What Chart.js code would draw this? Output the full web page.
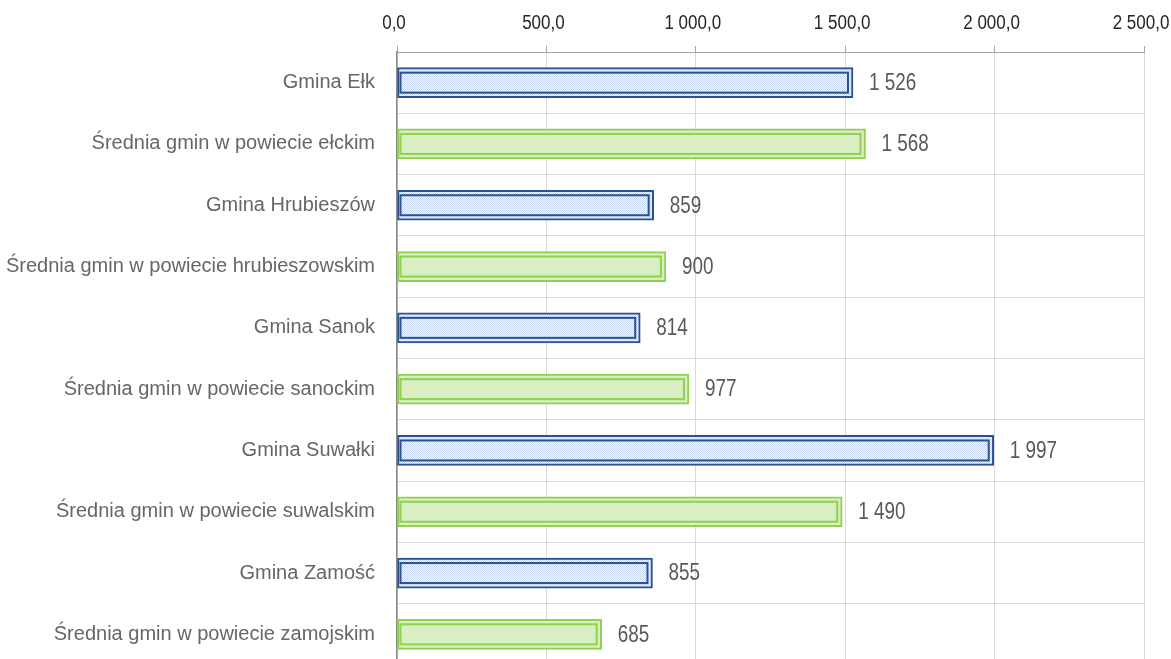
<!DOCTYPE html>
<html>
<head>
<meta charset="utf-8">
<script src="https://cdn.jsdelivr.net/npm/chart.js@4/dist/chart.umd.min.js"></script>
<style>
html,body{margin:0;padding:0;background:#fff;overflow:hidden;}
#wrap{width:1171px;height:665px;}
</style>
</head>
<body>
<div id="wrap"><canvas id="c" width="1171" height="665"></canvas></div>
<script>
// ---- data ----
const categories = [
  "Gmina Ełk",
  "Średnia gmin w powiecie ełckim",
  "Gmina Hrubieszów",
  "Średnia gmin w powiecie hrubieszowskim",
  "Gmina Sanok",
  "Średnia gmin w powiecie sanockim",
  "Gmina Suwałki",
  "Średnia gmin w powiecie suwalskim",
  "Gmina Zamość",
  "Średnia gmin w powiecie zamojskim"
];
const values = [1526, 1568, 859, 900, 814, 977, 1997, 1490, 855, 685];
const kinds = ["gmina","avg","gmina","avg","gmina","avg","gmina","avg","gmina","avg"];
const axisMin = 0;
const axisMax = 2500;
const axisStep = 500;

// ---- helpers ----
function fmt(v, dec) {
  const s = v.toFixed(dec);
  const parts = s.split('.');
  parts[0] = parts[0].replace(/\B(?=(\d{3})+(?!\d))/g, ' ');
  return parts.join(',');
}
function makePattern() {
  const p = document.createElement('canvas');
  p.width = 2; p.height = 2;
  const g = p.getContext('2d');
  g.fillStyle = '#f4f7fc'; g.fillRect(0,0,2,2);
  g.fillStyle = '#c9d8ef'; g.fillRect(0,0,1,1); g.fillRect(1,1,1,1);
  return document.getElementById('c').getContext('2d').createPattern(p, 'repeat');
}
const pattern = makePattern();
const BLUE = '#2a5190';
const GREEN = '#92d050';
const GREEN_FILL = '#d9eec3';

const fills = kinds.map(k => k === 'gmina' ? pattern : GREEN_FILL);
const borders = kinds.map(k => k === 'gmina' ? BLUE : GREEN);

const SANS = '"Liberation Sans", Arial, sans-serif';

function condensedText(ctx, text, x, y, sx, align) {
  ctx.save();
  ctx.translate(x, y);
  ctx.scale(sx, 1);
  ctx.textAlign = align;
  ctx.fillText(text, 0, 0);
  ctx.restore();
}

const customPlugin = {
  id: 'customDraw',
  afterDatasetsDraw(chart) {
    const ctx = chart.ctx;
    const meta = chart.getDatasetMeta(0);
    ctx.save();
    meta.data.forEach((el, i) => {
      const p = el.getProps(['x','y','base','height'], true);
      const top = p.y - p.height / 2;
      ctx.strokeStyle = borders[i];
      ctx.lineWidth = 2;
      ctx.strokeRect(p.base + 3, top + 5, (p.x - p.base) - 8, p.height - 10);
    });
    ctx.restore();
  },
  afterDraw(chart) {
    const ctx = chart.ctx;
    const meta = chart.getDatasetMeta(0);
    ctx.save();
    // data labels
    ctx.font = '23px ' + SANS;
    ctx.fillStyle = '#595959';
    ctx.textBaseline = 'middle';
    meta.data.forEach((el, i) => {
      const p = el.getProps(['x','y'], true);
      condensedText(ctx, fmt(values[i], 0), p.x + 16, p.y + 1, 0.82, 'left');
    });
    // x-axis tick labels
    const xs = chart.scales.x;
    ctx.font = '20px ' + SANS;
    ctx.fillStyle = '#262626';
    xs.ticks.forEach(t => {
      const px = xs.getPixelForValue(t.value);
      condensedText(ctx, fmt(t.value, 1), px - 3, 23, 0.85, 'center');
    });
    ctx.restore();
  }
};

new Chart(document.getElementById('c'), {
  type: 'bar',
  data: {
    labels: categories,
    datasets: [{
      data: values,
      backgroundColor: fills,
      borderColor: borders,
      borderWidth: 2,
      borderSkipped: false,
      barThickness: 30
    }]
  },
  options: {
    indexAxis: 'y',
    responsive: false,
    animation: false,
    layout: { padding: { left: 0, right: 27, top: 0, bottom: 0 } },
    plugins: { legend: { display: false }, tooltip: { enabled: false } },
    scales: {
      x: {
        position: 'top',
        min: axisMin,
        max: axisMax,
        afterFit(s) { s.height = 52; s.paddingLeft = 0; s.paddingRight = 0; },
        ticks: {
          stepSize: axisStep,
          display: false,
          callback: v => fmt(v, 1)
        },
        grid: { color: '#d9d9d9', tickColor: '#a6a6a6', tickLength: 6, lineWidth: 1 },
        border: { display: true, color: '#a6a6a6', width: 1 }
      },
      y: {
        afterFit(s) { s.width = 397; s.paddingTop = 0; s.paddingBottom = 0; },
        ticks: {
          padding: 22,
          color: '#666666',
          font: { family: SANS, size: 20 }
        },
        grid: { color: '#d9d9d9', drawTicks: false, offset: true },
        border: { display: true, color: '#8a8a8a', width: 1.5 }
      }
    }
  },
  plugins: [customPlugin]
});
</script>
</body>
</html>
